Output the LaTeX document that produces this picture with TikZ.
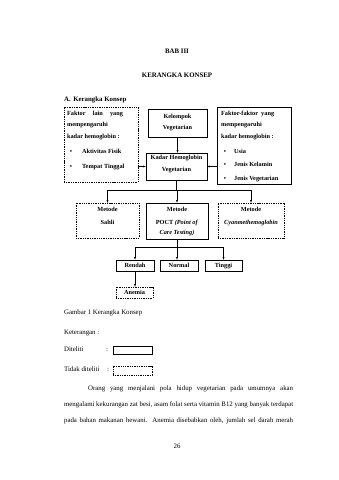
\documentclass[tikz,border=0pt]{standalone}
\usepackage{fontspec}
\setmainfont{Liberation Serif}
\usetikzlibrary{fit}
\begin{document}
\begin{tikzpicture}[>=latex, x=1.754pt, y=-1.754pt,
  box/.style={draw, line width=0.9pt, inner sep=0pt},
  dbox/.style={draw, line width=0.7pt, dash pattern=on 1.8pt off 1.3pt, inner sep=0pt},
  isi/.style={font=\fontsize{11}{13}\bfseries\selectfont},
  lbl/.style={isi, inner sep=0pt, anchor=mid},
  hasil/.style={isi, minimum width=66.7pt, minimum height=19.3pt, text height=7.6pt, text depth=2.2pt},
  txt/.style={font=\fontsize{12}{14}\selectfont, inner sep=0pt, anchor=mid west},
  conn/.style={line width=0.6pt}]
 \useasboundingbox[fill=white] (0,0) rectangle (339,480);
 % headings
 \node[lbl, font=\fontsize{12}{14}\bfseries\selectfont] (bab) at (177,52) {BAB III};
 \node[lbl, font=\fontsize{12}{14}\bfseries\selectfont] (judul) at (177,76) {KERANGKA KONSEP};
 \node[txt, font=\fontsize{12}{14}\bfseries\selectfont] (subjudul) at (64,100) {A.\hspace{4.5pt}Kerangka Konsep};
 % upper row
 \node[dbox, fit={(64,107) (138,182)}] (lain) {};
 \node[lbl, anchor=mid west] (lain1) at (67,114) {\hbox to 98pt{Faktor\hfill lain\hfill yang}};
 \node[lbl, anchor=mid west] (lain2) at (67,125.5) {mempengaruhi};
 \node[lbl, anchor=mid west] (lain3) at (67,137) {kadar hemoglobin :};
 \node[lbl] (lainb1) at (71,152) {\textbullet};
 \node[lbl, anchor=mid west] (lainf1) at (82,152) {Aktivitas Fisik};
 \node[lbl] (lainb2) at (71,167) {\textbullet};
 \node[lbl, anchor=mid west] (lainf2) at (82,167) {Tempat Tinggal};
 \node[box, fit={(148,109) (207,137)}] (kelompok) {};
 \node[lbl] (kel1) at (177.5,117) {Kelompok};
 \node[lbl] (kel2) at (177.5,128.5) {Vegetarian};
 \node[box, fit={(146,153) (207,180)}] (kadar) {};
 \node[lbl] (kad1) at (176.5,158.5) {Kadar Hemoglobin};
 \node[lbl] (kad2) at (176.5,170.5) {Vegetarian};
 \node[box, fit={(217,107) (291,184)}] (faktor) {};
 \node[lbl, anchor=mid west] (fak1) at (221,114) {\hbox to 93pt{Faktor-faktor\hfill yang}};
 \node[lbl, anchor=mid west] (fak2) at (221,125.5) {mempengaruhi};
 \node[lbl, anchor=mid west] (fak3) at (221,137) {kadar hemoglobin :};
 \node[lbl] (fakb1) at (225,152) {\textbullet};
 \node[lbl, anchor=mid west] (fakf1) at (234,152) {Usia};
 \node[lbl] (fakb2) at (225,165.5) {\textbullet};
 \node[lbl, anchor=mid west] (fakf2) at (234,165.5) {Jenis Kelamin};
 \node[lbl] (fakb3) at (225,179) {\textbullet};
 \node[lbl, anchor=mid west] (fakf3) at (234,179) {Jenis Vegetarian};
 \draw[conn, ->] (kelompok.south) -- (kelompok.south |- kadar.north);
 \draw[conn, ->] (lain.east |- kadar.west) -- (kadar.west);
 \draw[conn, ->] (faktor.west |- kadar.east) -- (kadar.east);
 % metode
 \node[dbox, fit={(76,203) (139,238)}] (sahli) {};
 \node[lbl] (sah1) at (107.5,210) {Metode};
 \node[lbl] (sah2) at (107.5,223) {Sahli};
 \node[box, fit={(146,203) (208,239)}] (poct) {};
 \node[lbl] (poc1) at (177,210) {Metode};
 \node[lbl] (poc2) at (177,223) {POCT \textit{(Point of}};
 \node[lbl] (poc3) at (177,233.5) {\textit{Care Testing)}};
 \node[dbox, fit={(218,203) (284,238)}] (cyan) {};
 \node[lbl] (cya1) at (251,210) {Metode};
 \node[lbl] (cya2) at (251,223) {\textit{Cyanmethemoglobin}};
 \coordinate (cabang1) at (177,190);
 \draw[conn] (kadar.south) -- (kadar.south |- cabang1);
 \draw[conn] (sahli.north |- cabang1) -- (cyan.north |- cabang1);
 \draw[conn, ->] (sahli.north |- cabang1) -- (sahli.north);
 \draw[conn, ->] (poct.north |- cabang1) -- (poct.north);
 \draw[conn, ->] (cyan.north |- cabang1) -- (cyan.north);
 % hasil
 \node[box, hasil] (rendah) at (135,265.5) {Rendah};
 \node[box, hasil] (normal) at (179,265.5) {Normal};
 \node[box, hasil, minimum width=64.9pt] (tinggi) at (223.5,265.5) {Tinggi};
 \node[dbox, hasil, minimum width=64.9pt] (anemia) at (134.5,292.5) {Anemia};
 \coordinate (cabang2) at (177,247);
 \draw[conn] (poct.south) -- (poct.south |- cabang2);
 \draw[conn] (rendah.north |- cabang2) -- (tinggi.north |- cabang2);
 \draw[conn, ->] (rendah.north |- cabang2) -- (rendah.north);
 \draw[conn, ->] (poct.south |- cabang2) -- (poct.south |- normal.north);
 \draw[conn, ->] (tinggi.north |- cabang2) -- (tinggi.north);
 \draw[conn, ->] (rendah.south) -- (rendah.south |- anemia.north);
 % keterangan
 \node[txt] (gambar) at (64,313) {Gambar 1 Kerangka Konsep};
 \node[txt] (ket) at (64,333) {Keterangan :};
 \node[txt] (diteliti) at (64,350) {Diteliti};
 \node[txt, anchor=mid] (titik1) at (107,350) {:};
 \node[box, fit={(113,346) (152,354)}] (kotak1) {};
 \node[txt] (tidak) at (64,370.5) {Tidak diteliti};
 \node[txt, anchor=mid] (titik2) at (108,370.5) {:};
 \node[dbox, fit={(113,366) (152,375)}] (kotak2) {};
 % paragraf
 \node[txt] (baris1) at (88,389.5) {\hbox to 359.6pt{Orang yang menjalani pola hidup vegetarian pada umumnya akan}};
 \node[txt] (baris2) at (64,405.5) {\hbox to 401.7pt{mengalami kekurangan zat besi, asam folat serta vitamin B12 yang banyak terdapat}};
 \node[txt] (baris3) at (64,421.5) {\hbox to 401.7pt{pada bahan makanan hewani. Anemia disebabkan oleh, jumlah sel darah merah}};
 \node[txt, anchor=mid] (hal) at (177,447) {26};
\end{tikzpicture}
\end{document}
